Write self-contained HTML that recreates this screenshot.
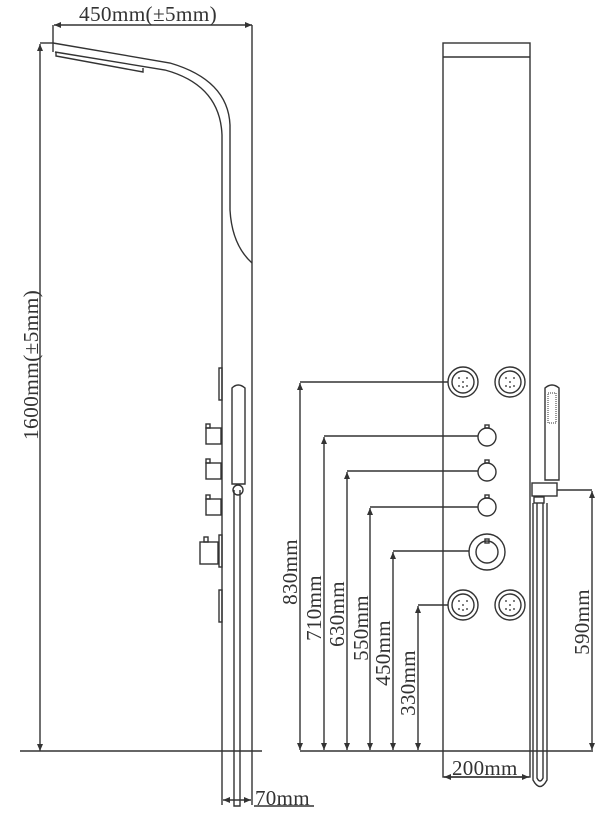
<!DOCTYPE html>
<html><head><style>
html,body{margin:0;padding:0;background:#fff;}
svg{display:block;}
text{font-family:"Liberation Serif",serif;font-size:21px;fill:#333;letter-spacing:0.3px;}
</style></head><body>
<svg width="602" height="817" viewBox="0 0 602 817" xmlns="http://www.w3.org/2000/svg">
<defs>
<marker id="a" markerWidth="8" markerHeight="8" refX="7" refY="3" orient="auto-start-reverse" markerUnits="userSpaceOnUse"><path d="M0,0 L7,3 L0,6 z" fill="#333"/></marker>
</defs>
<g stroke="#333" stroke-width="1.4" fill="none">
<line x1="40" y1="44" x2="40" y2="751" marker-start="url(#a)" marker-end="url(#a)"/>
<line x1="40" y1="43" x2="53" y2="43"/>
<line x1="54" y1="25" x2="252" y2="25" marker-start="url(#a)" marker-end="url(#a)"/>
<line x1="53" y1="25" x2="53" y2="52"/>
<path d="M53,43 L170,63 Q228,80 230,125 L230,210 Q232,245 252,263"/>
<path d="M55,52 L165,70 Q220,85 222,135 L222,805"/>
<line x1="252" y1="25" x2="252" y2="805"/>
<path d="M56,52 L56,56 L143,72 L143,68"/>
<line x1="20" y1="751" x2="262" y2="751"/>
<rect x="219" y="368" width="3" height="32"/>
<rect x="219" y="535" width="3" height="32"/>
<rect x="219" y="590" width="3" height="32"/>
<rect x="206" y="428" width="15" height="16"/><rect x="206" y="424" width="4" height="4"/>
<rect x="206" y="463" width="15" height="16"/><rect x="206" y="459" width="4" height="4"/>
<rect x="206" y="499" width="15" height="16"/><rect x="206" y="495" width="4" height="4"/>
<rect x="200" y="542" width="18" height="22"/><rect x="204" y="537" width="4" height="5"/>
<path d="M232,484 L232,388 Q238,382 245,388 L245,484 Z"/>
<circle cx="238" cy="490" r="5"/>
<path d="M234,490 L234,806 L240,806 L240,490"/>
<line x1="223" y1="800" x2="251" y2="800" marker-start="url(#a)" marker-end="url(#a)"/>
<line x1="254" y1="806" x2="314" y2="806"/>
<rect x="443" y="43" width="87" height="734"/>
<line x1="443" y1="57" x2="530" y2="57"/>
<line x1="300" y1="751" x2="593" y2="751"/>
<line x1="300" y1="383" x2="300" y2="750" marker-start="url(#a)" marker-end="url(#a)"/><line x1="300" y1="382" x2="448" y2="382"/>
<line x1="324" y1="437" x2="324" y2="750" marker-start="url(#a)" marker-end="url(#a)"/><line x1="324" y1="436" x2="478" y2="436"/>
<line x1="347" y1="472" x2="347" y2="750" marker-start="url(#a)" marker-end="url(#a)"/><line x1="347" y1="471" x2="478" y2="471"/>
<line x1="370" y1="508" x2="370" y2="750" marker-start="url(#a)" marker-end="url(#a)"/><line x1="370" y1="507" x2="478" y2="507"/>
<line x1="393" y1="552" x2="393" y2="750" marker-start="url(#a)" marker-end="url(#a)"/><line x1="393" y1="551" x2="469" y2="551"/>
<line x1="418" y1="606" x2="418" y2="750" marker-start="url(#a)" marker-end="url(#a)"/><line x1="418" y1="605" x2="448" y2="605"/>
<circle cx="463" cy="382" r="15"/><circle cx="463" cy="382" r="11"/>
<circle cx="510" cy="382" r="15"/><circle cx="510" cy="382" r="11"/>
<circle cx="463" cy="605" r="15"/><circle cx="463" cy="605" r="11"/>
<circle cx="510" cy="605" r="15"/><circle cx="510" cy="605" r="11"/>
<circle cx="487" cy="437" r="9"/><rect x="485" y="425" width="4" height="3"/>
<circle cx="487" cy="472" r="9"/><rect x="485" y="460" width="4" height="3"/>
<circle cx="487" cy="507" r="9"/><rect x="485" y="495" width="4" height="3"/>
<circle cx="487" cy="552" r="18"/><circle cx="487" cy="552" r="11"/><rect x="485" y="539" width="4" height="4"/>
<line x1="444" y1="777" x2="529" y2="777" marker-start="url(#a)" marker-end="url(#a)"/>
<path d="M545,480 L545,388 Q552,382 559,388 L559,480 Z"/>
<rect x="532" y="483" width="25" height="13"/>
<rect x="534" y="497" width="10" height="6"/>
<path d="M533,503 L533,780 Q540,793 547,780 L547,503"/>
<path d="M537,503 L537,778 Q540,784 543,778 L543,503"/>
<line x1="557" y1="490" x2="592" y2="490"/>
<line x1="592" y1="491" x2="592" y2="750" marker-start="url(#a)" marker-end="url(#a)"/>
<rect x="548" y="393" width="8" height="30" stroke-dasharray="1 1" stroke-width="1"/>
</g>
<g fill="#555">
<circle cx="463" cy="382" r="1"/><circle cx="459" cy="378" r="1"/><circle cx="467" cy="378" r="1"/><circle cx="459" cy="386" r="1"/><circle cx="467" cy="386" r="1"/><circle cx="463" cy="387" r="1"/>
<circle cx="510" cy="382" r="1"/><circle cx="506" cy="378" r="1"/><circle cx="514" cy="378" r="1"/><circle cx="506" cy="386" r="1"/><circle cx="514" cy="386" r="1"/><circle cx="510" cy="387" r="1"/>
<circle cx="463" cy="605" r="1"/><circle cx="459" cy="601" r="1"/><circle cx="467" cy="601" r="1"/><circle cx="459" cy="609" r="1"/><circle cx="467" cy="609" r="1"/><circle cx="463" cy="610" r="1"/>
<circle cx="510" cy="605" r="1"/><circle cx="506" cy="601" r="1"/><circle cx="514" cy="601" r="1"/><circle cx="506" cy="609" r="1"/><circle cx="514" cy="609" r="1"/><circle cx="510" cy="610" r="1"/>
</g>
<text x="79" y="21" textLength="138" lengthAdjust="spacingAndGlyphs">450mm(±5mm)</text>
<text transform="translate(38,365) rotate(-90)" text-anchor="middle" textLength="150" lengthAdjust="spacingAndGlyphs">1600mm(±5mm)</text>
<text x="255" y="805">70mm</text>
<text x="452" y="775">200mm</text>
<text transform="translate(297,572) rotate(-90)" text-anchor="middle">830mm</text>
<text transform="translate(321,608) rotate(-90)" text-anchor="middle">710mm</text>
<text transform="translate(344,614) rotate(-90)" text-anchor="middle">630mm</text>
<text transform="translate(368,628) rotate(-90)" text-anchor="middle">550mm</text>
<text transform="translate(390,653) rotate(-90)" text-anchor="middle">450mm</text>
<text transform="translate(415,683) rotate(-90)" text-anchor="middle">330mm</text>
<text transform="translate(589,622) rotate(-90)" text-anchor="middle">590mm</text>
</svg>
</body></html>
